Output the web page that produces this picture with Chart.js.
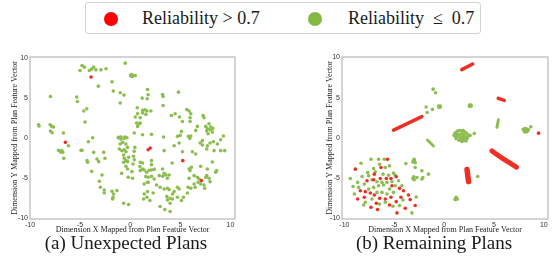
<!DOCTYPE html>
<html>
<head>
<meta charset="utf-8">
<script src="https://cdn.jsdelivr.net/npm/chart.js@4.4.1/dist/chart.umd.min.js"></script>
<style>
  html, body { margin:0; padding:0; background:#fff; }
  body { width:553px; height:264px; position:relative; overflow:hidden; font-family:'Liberation Serif', serif; }
  #legend { position:absolute; left:85px; top:2px; width:394px; height:30px; border:1.5px solid #d4d4d4; border-radius:3px; box-sizing:content-box; }
  .dot { position:absolute; width:14px; height:14px; border-radius:50%; top:9px; }
  .ltxt { position:absolute; top:5px; font-size:18px; color:#1a1a1a; white-space:pre; }
  .cap { position:absolute; top:232px; font-size:19px; color:#1a1a1a; white-space:pre; transform:translateX(-50%); }
  canvas { position:absolute; }
</style>
</head>
<body>
<div id="legend"></div>
<canvas id="c1" width="280" height="200" style="left:0px;top:40px;width:280px;height:200px"></canvas>
<canvas id="c2" width="253" height="200" style="left:300px;top:40px;width:253px;height:200px"></canvas>
<div class="cap" id="cap1" style="left:126px"></div>
<div class="cap" id="cap2" style="left:434px"></div>
<script>
// ---------- text ----------
const seriesNames = ['Reliability > 0.7', 'Reliability  \u2264  0.7'];
const captions = ['(a) Unexpected Plans', '(b) Remaining Plans'];
const xTitle = 'Dimension X Mapped from Plan Feature Vector';
const yTitle = 'Dimension Y Mapped from Plan Feature Vector';
const tickValues = [-10, -5, 0, 5, 10];

// ---------- (a) Unexpected plans ----------
const leftHigh = [[-3.91,7.63],[-6.47,-0.54],[1.79,-1.46],[1.99,-1.25],[5.24,-2.83],[7.10,-5.33]];
const leftLow = [
 [-4.81,9.08],[-4.58,8.88],[-5.01,8.46],[-4.08,8.46],[-3.85,8.63],[-3.65,8.88],[-3.42,8.54],[-2.92,8.54],[-2.42,8.67],[-0.50,9.38],
 [0.05,7.8],[0.2,7.9],[0.15,7.7],[0.25,7.75],[0.1,7.95],[0.5,7.83],
 [-1.82,7.04],[-3.18,6.5],[-1.69,5.88],[-1.0,5.67],[-0.63,5.38],[-1.0,4.38],
 [1.72,6.08],[1.79,5.42],[1.19,5.0],[1.69,4.92],[3.22,5.46],[3.28,5.21],[3.28,4.08],[4.81,5.75],
 [-5.34,5.13],[-5.27,4.58],[-7.96,5.21],[-4.34,3.67],[-4.64,3.38],[-4.51,2.0],
 [0.70,3.79],[1.23,3.46],[1.46,3.54],[1.66,3.38],[1.23,3.13],[1.56,2.96],[2.06,3.38],[0.73,3.04],[0.5,2.63],[0.99,2.54],
 [0.63,1.88],[0.9,1.79],[0.73,1.46],[1.0,1.88],[0.4,0.63],[1.23,0.42],[2.12,0.46],[3.32,0.13],
 [4.11,2.83],[4.48,3.04],[4.91,2.63],[5.21,2.08],[5.64,3.58],[5.87,3.38],[6.04,3.04],[5.97,2.54],[5.97,2.08],
 [7.26,2.83],[7.36,2.54],[6.70,1.46],[6.53,0.96],[5.11,0.83],[4.98,0.33],[6.04,0.25],
 [7.86,1.79],[8.03,1.38],[7.69,1.17],[7.53,1.46],[7.96,1.04],[8.23,1.21],[7.76,0.54],[8.19,0.75],[7.63,0.88],[9.29,0.25],
 [-9.15,1.67],[-9.1,1.5],[-7.99,1.67],[-7.83,1.46],[-7.66,1.38],[-7.96,0.88],[-7.79,0.67],[-6.67,0.63],
 [-3.75,0.04],[-1.19,0.04],[-0.93,0.13],[-0.53,0.13],[-0.33,0.04],
 [-6.17,-0.96],[-7.16,-1.54],[-6.9,-1.67],[-6.73,-1.79],[-6.83,-1.58],[-6.95,-1.75],[-6.63,-2.54],
 [-4.91,-1.54],[-4.81,-1.54],[-4.18,-0.46],[-3.65,-1.79],[-2.65,-1.79],[-4.25,-3.04],[-4.31,-2.83],
 [-3.32,-2.63],[-3.15,-2.96],[-2.52,-2.54],[-3.85,-4.17],[-2.82,-4.63],[-3.08,-5.42],[-2.98,-6.17],
 [-2.59,-6.5],[-2.59,-6.88],[-1.82,-6.67],[-1.66,-7.0],[-1.72,-7.42],[-1.76,-7.63],[-1.33,-6.58],
 [-0.66,-8.17],[-0.17,-8.33],
 [-1.16,0.08],[-0.93,-0.13],[-0.6,-0.04],[-1.0,-0.75],[-0.76,-0.54],[-0.43,-0.75],[-1.09,-1.38],[-0.83,-1.58],[-0.6,-1.46],[-0.27,-1.17],
 [-0.66,-2.13],[-0.43,-1.71],[-0.6,-2.54],[-0.43,-2.83],[-0.66,-3.04],[-0.27,-2.96],[-0.17,-2.42],[-0.43,-3.54],[-0.27,-3.88],
 [0.4,-1.67],[0.46,-1.17],[0.17,-4.21],[0.33,-2.29],[0.4,-2.71],[0.27,-3.25],[-0.2,-4.92],[0.23,-5.04],[-0.86,-4.42],
 [1.0,-4.08],[1.23,-3.88],[1.39,-4.0],[1.63,-4.29],[1.89,-4.04],[2.12,-4.0],[2.39,-3.92],[0.96,-3.58],[2.12,-2.83],[2.12,-3.33],
 [3.38,-1.58],[5.21,-1.71],[4.18,-3.13],
 [3.22,-3.88],[3.38,-4.42],[3.55,-4.63],[3.22,-4.79],[3.71,-5.04],[3.88,-4.63],
 [1.56,-4.83],[1.79,-4.92],[2.12,-4.79],[2.39,-5.13],[1.72,-5.54],[1.39,-5.75],[1.79,-5.54],[2.62,-5.88],[2.89,-4.71],
 [1.72,-6.71],[2.29,-6.88],[2.98,-6.17],[1.39,-7.0],[1.33,-7.63],[1.66,-7.42],[1.96,-7.83],
 [3.38,-6.38],[3.71,-6.29],[3.88,-6.46],[4.21,-7.0],[4.38,-6.71],[4.88,-6.38],[4.71,-6.17],
 [3.65,-7.33],[3.71,-7.75],[3.98,-8.17],[4.21,-7.63],[3.98,-7.54],[2.98,-8.58],[3.45,-8.96],[3.98,-9.21],
 [4.71,-7.42],[5.11,-7.83],[5.31,-7.42],[5.7,-6.88],
 [5.77,-6.17],[6.04,-6.29],[6.37,-5.75],[6.47,-6.17],[6.77,-5.54],[7.03,-5.75],[7.36,-5.88],[7.43,-6.29],
 [5.87,-5.04],[6.7,-4.92],[6.87,-5.13],[6.37,-4.71],[7.63,-4.71],[7.86,-5.04],[7.96,-5.46],[7.53,-4.92],
 [7.03,-3.54],[7.69,-3.88],[8.19,-3.0],[8.52,-4.29],[8.62,-4.08],[5.87,-3.88],[5.97,-4.08],[6.1,-3.67],
 [6.97,-0.63],[7.2,-0.88],[7.69,-0.96],[7.96,-0.63],[8.29,-0.46],[8.69,-0.75],[9.02,-0.21],[9.42,-1.58],[9.02,-1.58],[8.36,-1.58],[7.63,-1.38],[7.2,-0.33],
 [6.2,-1.71],[6.53,-2.0],[4.38,-0.96],[4.88,-0.63],[5.94,-0.04],[5.8,0.21],[4.71,0.21],[1.0,-3.04],[1.23,-3.13]
];

// ---------- (b) Remaining plans ----------
const rightHigh = [
 [9.47,0.58],
 [-8.9,-3.9],[-5.67,-2.67],[-6.33,-3.7],[-7.0,-4.52],[-6.4,-5.06],[-5.8,-5.06],[-5.33,-5.06],[-7.73,-5.35],[-8.4,-6.58],[-7.9,-6.7],
 [-7.4,-6.87],[-7.0,-7.12],[-6.47,-7.53],[-5.9,-7.61],[-5.33,-7.4],[-4.8,-4.85],[-4.47,-6.29],[-4.07,-6.58],[-4.33,-7.4],[-3.57,-7.12],
 [-8.67,-7.61],[-8.0,-7.4],[-6.8,-8.14],[-5.47,-8.35],[-4.8,-7.94],[-3.9,-8.76],[-3.4,-7.69],[-2.9,-8.43],[-7.33,-8.64],[-6.67,-8.93],
 [-4.73,-9.34],[-7.07,-5.22],[-5.23,-5.96]
];
const rightLow = [
 [-8.33,-3.16],[-7.33,-2.67],[-6.57,-2.67],[-6.0,-2.67],[-9.4,-5.06],[-8.67,-5.55],[-8.23,-4.81],[-7.67,-4.32],[-7.07,-3.82],[-6.47,-3.29],
 [-5.9,-3.7],[-5.47,-3.49],[-5.07,-4.4],[-4.9,-4.65],[-5.23,-5.47],[-5.73,-5.55],[-6.23,-5.55],[-6.73,-5.47],[-7.23,-5.22],[-8.0,-5.76],
 [-9.13,-6.05],[-8.57,-6.17],[-7.57,-6.37],[-7.07,-6.17],[-6.57,-5.96],[-6.07,-5.88],[-5.47,-6.37],[-4.9,-5.96],[-4.57,-5.35],[-4.23,-5.96],
 [-5.07,-6.79],[-5.73,-6.99],[-6.23,-6.79],[-6.73,-6.79],[-7.23,-7.61],[-7.9,-8.02],[-6.47,-8.23],[-5.9,-8.02],[-5.13,-8.51],[-4.47,-8.43],
 [-4.13,-7.73],[-9.0,-6.99],[-5.57,-4.65],[-6.9,-4.23],[-6.13,-4.52],[-7.57,-4.73],[-8.07,-8.35],
 [-2.8,-7.36],[-3.23,-9.34],
 [-3.0,-2.88],[-2.9,-3.09],[-3.13,-3.0],[-3.0,-2.67],[-3.05,-2.8],[-3.83,-3.21],[-2.9,-3.7],
 [-2.23,-4.11],[-1.57,-4.52],[-2.13,-4.94],[-2.23,-5.14],[-3.13,-5.06],[-3.0,-5.22],[-2.73,-4.94],[-3.05,-4.85],
 [3.37,-4.81],[1.27,-7.53],[1.1,-7.69],[1.2,-7.4],[1.3,-7.65],
 [-1.1,6.05],[-0.85,5.6],
 [-0.47,3.87],[-0.55,3.95],[-0.4,3.8],[-0.5,3.78],[-0.38,3.95],
 [-1.8,3.83],[-1.17,3.54],[-1.7,3.14],
 [2.63,4.0],[2.55,3.92],[2.7,4.08],[2.7,3.92],[2.56,4.06],
 [8.2,0.95],[8.0,0.9],[8.4,0.9],[8.1,1.15],[8.3,1.1],[8.1,0.72],[8.3,0.75],[7.95,1.05],[8.45,1.0],[8.7,1.36],
 [1.0,0.3],[1.1,0.6],[1.3,0.8],[1.5,0.9],[1.7,0.85],[1.9,0.9],[2.1,0.7],[2.3,0.5],[2.4,0.2],[2.3,-0.1],
 [2.1,-0.3],[1.8,-0.45],[1.5,-0.3],[1.2,-0.1],[1.4,0.2],[1.6,0.4],[1.8,0.5],[2.0,0.3],[1.7,0.0],[1.9,0.1],
 [1.3,0.5],[2.1,0.1],[1.6,-0.15],[2.6,0.3],[3.03,0.54],[1.15,0.2],[2.2,-0.4],[1.95,-0.2]
];
const rightHighStreaks = [
 [[1.77,8.48],[2.87,9.18]],
 [[-5.07,0.95],[-2.23,2.64]],
 [[5.43,4.9],[6.03,4.65]],
 [[4.8,-1.64],[5.9,-2.6],[7.25,-3.65]],
 [[2.3,-3.95],[2.45,-5.45]]
];
const rightLowStreaks = [
 [[5.45,2.25],[5.3,1.3]],
 [[-1.67,-0.28],[-1.07,-1.02]]
];

// ---------- styles ----------
const RED = '#ef2f24';
const GREEN = '#8cbd4f';
const highStreakWidths = [3.5, 3.5, 3.5, 5, 5.5];
const lowStreakWidths = [3, 3];

const toXY = arr => arr.map(p => ({x: p[0], y: p[1]}));

// legend + captions
const lg = document.getElementById('legend');
lg.innerHTML =
  '<div class="dot" style="left:18px;background:#ff0000"></div>' +
  '<div class="ltxt" style="left:56px">' + seriesNames[0] + '</div>' +
  '<div class="dot" style="left:222px;background:#84b844"></div>' +
  '<div class="ltxt" style="left:262px">' + seriesNames[1] + '</div>';
document.getElementById('cap1').textContent = captions[0];
document.getElementById('cap2').textContent = captions[1];

const framePlugin = {
  id: 'frame',
  beforeDatasetsDraw(chart) {
    const a = chart.chartArea, ctx = chart.ctx;
    ctx.save();
    ctx.strokeStyle = '#b8b8b8';
    ctx.lineWidth = 1.2;
    ctx.strokeRect(a.left, a.top, a.right - a.left, a.bottom - a.top);
    ctx.restore();
  }
};

function makeScales(xr, yr, yW, yTitlePad) {
  const tickFont = {family: "'Liberation Sans', Arial, sans-serif", size: 7};
  const titleFont = {family: "'Liberation Serif', serif", size: 8};
  return {
    x: {
      type: 'linear', min: xr[0], max: xr[1],
      afterBuildTicks: s => { s.ticks = tickValues.map(v => ({value: v})); },
      afterFit: s => { s.height = 21; },
      grid: {display: false, drawTicks: false},
      border: {display: false},
      ticks: {font: tickFont, color: '#333', padding: 2, maxRotation: 0},
      title: {display: true, text: xTitle, font: titleFont, color: '#222', padding: {top: 0, bottom: 5}}
    },
    y: {
      type: 'linear', min: yr[0], max: yr[1],
      afterBuildTicks: s => { s.ticks = tickValues.map(v => ({value: v})); },
      afterFit: s => { s.width = yW; },
      grid: {display: false, drawTicks: false},
      border: {display: false},
      ticks: {font: tickFont, color: '#333', padding: 2},
      title: {display: true, text: yTitle, font: titleFont, color: '#222', padding: {top: yTitlePad, bottom: 0}}
    }
  };
}

function pointDs(data, color) {
  return {type: 'scatter', data: toXY(data), backgroundColor: color, borderWidth: 0, pointRadius: 1.8, pointHoverRadius: 1.8};
}
function streakDs(line, color, w) {
  return {type: 'line', data: toXY(line), borderColor: color, borderWidth: w, pointRadius: 0, showLine: true,
          fill: false, tension: 0, borderCapStyle: 'round', borderJoinStyle: 'round'};
}

const common = {
  responsive: false, animation: false, events: [],
  plugins: {legend: {display: false}, tooltip: {enabled: false}}
};

new Chart(document.getElementById('c1'), {
  type: 'scatter',
  data: {datasets: [pointDs(leftHigh, RED), pointDs(leftLow, GREEN)]},
  options: Object.assign({}, common, {
    layout: {padding: {left: 0, top: 17, right: 45, bottom: 0}},
    scales: makeScales([-10.0, 10.45], [-10.14, 10.15], 30, 10.5)
  }),
  plugins: [framePlugin]
});

new Chart(document.getElementById('c2'), {
  type: 'scatter',
  data: {datasets: [
    ...rightHighStreaks.map((l, i) => streakDs(l, RED, highStreakWidths[i])),
    pointDs(rightHigh, RED),
    ...rightLowStreaks.map((l, i) => streakDs(l, GREEN, lowStreakWidths[i])),
    pointDs(rightLow, GREEN)
  ]},
  options: Object.assign({}, common, {
    layout: {padding: {left: 0, top: 17, right: 5, bottom: 0}},
    scales: makeScales([-10.24, 10.42], [-10.1, 10.05], 42, 25)
  }),
  plugins: [framePlugin]
});
</script>
</body>
</html>
